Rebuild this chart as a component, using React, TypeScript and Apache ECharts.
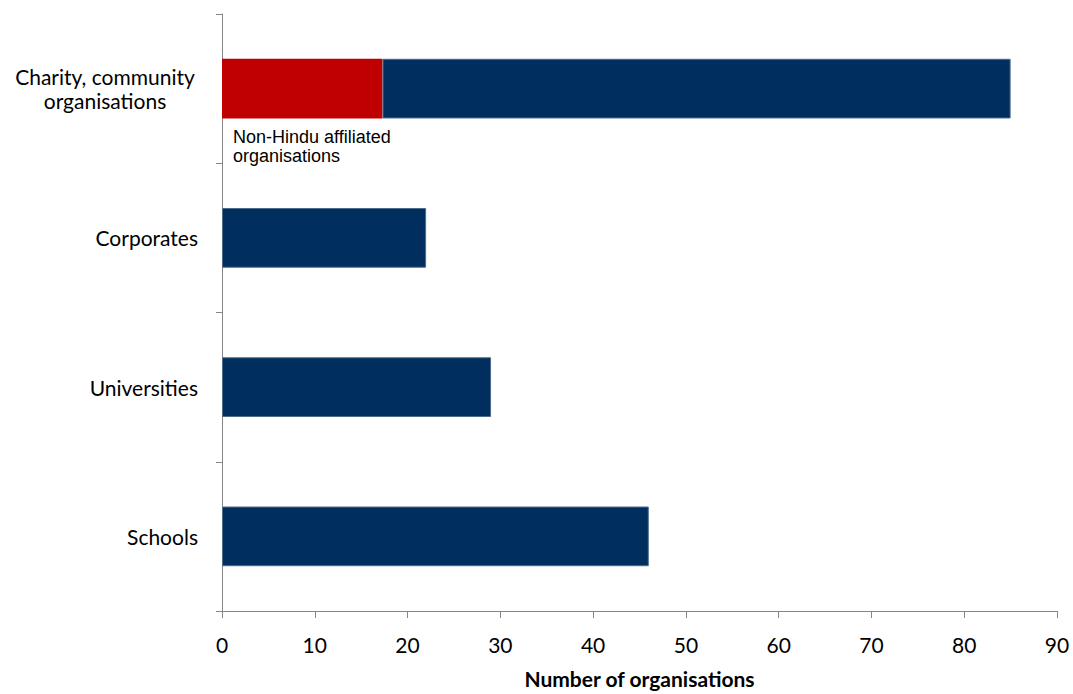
import React, { useEffect, useRef } from "react";
import * as echarts from "echarts";

// Categories listed bottom to top, as a horizontal category axis draws them
const categories = ["Schools", "Universities", "Corporates", "Charity, community\norganisations"];
// Non-Hindu affiliated share (only charity/community has one)
const nonHinduValues = [0, 0, 0, 17.3];
// Remaining organisations stacked after the red segment
const otherValues = [46, 29, 22, 67.7];
const xTicks = { min: 0, max: 90, interval: 10 };
const xAxisTitle = "Number of organisations";
const annotation = "Non-Hindu affiliated\norganisations";

const NAVY = "#002F5F";
const RED = "#C00000";
const AXIS = "#868686";
const FONT = "Lato, 'Open Sans', sans-serif";

export default function App() {
  const ref = useRef<HTMLDivElement>(null);

  useEffect(() => {
    if (!ref.current) return;
    const chart = echarts.init(ref.current, undefined, { renderer: "svg" });
    chart.setOption({
      animation: false,
      backgroundColor: "#ffffff",
      grid: { left: 222, right: 16, top: 14, bottom: 76, containLabel: false },
      xAxis: {
        type: "value",
        min: xTicks.min,
        max: xTicks.max,
        interval: xTicks.interval,
        name: xAxisTitle,
        nameLocation: "middle",
        nameGap: 57,
        nameTextStyle: { fontFamily: FONT, fontSize: 21, fontWeight: "bold", color: "#000" },
        axisLine: { show: true, lineStyle: { color: AXIS, width: 1 } },
        axisTick: { show: true, length: 7, lineStyle: { color: AXIS } },
        axisLabel: { fontFamily: FONT, fontSize: 21, color: "#000", margin: 23 },
        splitLine: { show: false },
      },
      yAxis: {
        type: "category",
        data: categories,
        axisLine: { show: true, lineStyle: { color: AXIS, width: 1 } },
        axisTick: { show: true, length: 6, lineStyle: { color: AXIS } },
        axisLabel: {
          fontFamily: FONT,
          fontSize: 21,
          color: "#000",
          margin: 24,
          lineHeight: 24,
          formatter: (v: string) =>
            v.includes("\n")
              ? v.split("\n").map((l) => `{c|${l}}`).join("\n")
              : v,
          rich: {
            c: { width: 186, align: "center", fontFamily: FONT, fontSize: 21, color: "#000", lineHeight: 24 },
          },
        },
      },
      series: [
        {
          type: "bar",
          stack: "total",
          data: nonHinduValues,
          barWidth: "40%",
          itemStyle: { color: RED },
        },
        {
          type: "bar",
          stack: "total",
          data: otherValues,
          barWidth: "40%",
          itemStyle: { color: NAVY, borderColor: "#4d6b8c", borderWidth: 1 },
        },
      ],
      graphic: [
        {
          type: "text",
          left: 233,
          top: 127,
          style: {
            text: annotation,
            fontFamily: "'Liberation Sans', Arial, sans-serif",
            fontSize: 18,
            lineHeight: 19,
            fill: "#000",
          },
        },
      ],
    });
    return () => chart.dispose();
  }, []);

  return (
    <div
      ref={ref}
      style={{ position: "fixed", left: 0, top: 0, width: 1073, height: 694 }}
    />
  );
}
